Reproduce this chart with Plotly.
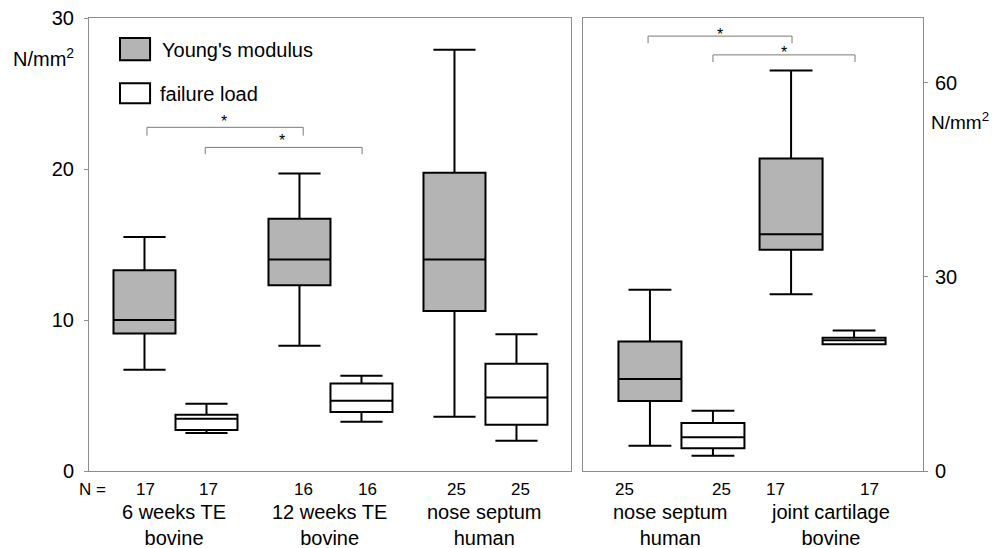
import plotly.graph_objects as go

# ---------------- data ----------------
groups_left = ["6 weeks TE<br>bovine", "12 weeks TE<br>bovine", "nose septum<br>human"]
groups_right = ["nose septum<br>human", "joint cartilage<br>bovine"]
n_young_left = ["17", "16", "25"]
n_fail_left = ["17", "16", "25"]
n_young_right = ["25", "17"]
n_fail_right = ["25", "17"]
left_ticks = [0, 10, 20, 30]
right_ticks = [0, 30, 60]

# Young's modulus, left panel (N/mm2, left axis)
young_left_upper = [15.5, 19.7, 27.9]
young_left_q3 = [13.3, 16.7, 19.75]
young_left_median = [10.0, 14.0, 14.0]
young_left_q1 = [9.1, 12.3, 10.6]
young_left_lower = [6.7, 8.3, 3.6]
# failure load, left panel
fail_left_upper = [4.45, 6.3, 9.05]
fail_left_q3 = [3.72, 5.8, 7.1]
fail_left_median = [3.46, 4.66, 4.86]
fail_left_q1 = [2.72, 3.9, 3.06]
fail_left_lower = [2.52, 3.26, 2.0]
# Young's modulus, right panel (right axis)
young_right_upper = [28.0, 61.9]
young_right_q3 = [20.0, 48.3]
young_right_median = [14.2, 36.6]
young_right_q1 = [10.8, 34.2]
young_right_lower = [3.9, 27.3]
# failure load, right panel
fail_right_upper = [9.3, 21.7]
fail_right_q3 = [7.4, 20.6]
fail_right_median = [5.2, 20.2]
fail_right_q1 = [3.5, 19.6]
fail_right_lower = [2.36, 19.6]

# ---------------- layout positions / styles ----------------
pos_young_left = [1, 3.5, 6]
pos_fail_left = [2, 4.5, 7]
pos_young_right = [1, 3.24]
pos_fail_right = [2, 4.24]
nlab_young_left = [1.01, 3.56, 6.04]
nlab_fail_left = [2.04, 4.59, 7.06]
nlab_young_right = [0.60, 2.985]
nlab_fail_right = [2.14, 4.49]
grp_left_x = [1.48, 3.99, 6.49]
grp_right_x = [1.32, 3.87]

FONT = "Liberation Sans, Arial, sans-serif"
GREY = "#b4b4b4"
FRAME = "#8c8c8c"
FS = 20      # main text size
FS_N = 17    # N labels

fig = go.Figure()

def add_box(x, lo, q1, med, q3, hi, fill, xa, ya, name):
    fig.add_trace(go.Box(
        x=x, lowerfence=lo, q1=q1, median=med, q3=q3, upperfence=hi,
        orientation="v", width=1.0, whiskerwidth=0.68,
        fillcolor=fill, line=dict(color="black", width=2),
        boxpoints=False, xaxis=xa, yaxis=ya, name=name, showlegend=False,
    ))

add_box(pos_young_left, young_left_lower, young_left_q1, young_left_median,
        young_left_q3, young_left_upper, GREY, "x", "y", "Young's modulus")
add_box(pos_fail_left, fail_left_lower, fail_left_q1, fail_left_median,
        fail_left_q3, fail_left_upper, "white", "x", "y", "failure load")
add_box(pos_young_right, young_right_lower, young_right_q1, young_right_median,
        young_right_q3, young_right_upper, GREY, "x2", "y2", "Young's modulus")
add_box(pos_fail_right, fail_right_lower, fail_right_q1, fail_right_median,
        fail_right_q3, fail_right_upper, "white", "x2", "y2", "failure load")

# significance brackets
def bracket(x0, x1, y, tip, xa, ya):
    fig.add_trace(go.Scatter(
        x=[x0, x0, x1, x1], y=[y - tip, y, y, y - tip], mode="lines",
        line=dict(color="#7a7a7a", width=1), xaxis=xa, yaxis=ya,
        showlegend=False, hoverinfo="skip"))

bracket(pos_young_left[0] + 0.04, pos_young_left[1] + 0.06, 22.76, 0.55, "x", "y")
bracket(pos_fail_left[0] - 0.02, pos_fail_left[1] + 0.01, 21.43, 0.45, "x", "y")
bracket(pos_young_right[0] - 0.03, pos_young_right[1] + 0.015, 67.2, 1.1, "x2", "y2")
bracket(pos_fail_right[0], pos_fail_right[1] + 0.015, 64.3, 1.1, "x2", "y2")

ann = []
stars = [(2.28, 23.15, "x", "y"), (3.22, 21.9, "x", "y"),
         (2.11, 67.5, "x2", "y2"), (3.13, 64.6, "x2", "y2")]
for sx, sy, xa, ya in stars:
    ann.append(dict(x=sx, y=sy, xref=xa, yref=ya, text="*", showarrow=False,
                    xanchor="center", yanchor="middle",
                    font=dict(family=FONT, size=16, color="black")))

# N labels
NY = -0.040
for xs, labs, xa in [(nlab_young_left, n_young_left, "x"), (nlab_fail_left, n_fail_left, "x"),
                     (nlab_young_right, n_young_right, "x2"), (nlab_fail_right, n_fail_right, "x2")]:
    for xv, t in zip(xs, labs):
        ann.append(dict(x=xv, y=NY, xref=xa, yref="paper", text=t, showarrow=False,
                        xanchor="center", yanchor="middle",
                        font=dict(family=FONT, size=FS_N, color="black")))
ann.append(dict(x=0.0036, y=NY, xref="paper", yref="paper", text="N =", showarrow=False,
                xanchor="center", yanchor="middle",
                font=dict(family=FONT, size=FS_N, color="black")))

# group labels
GY = -0.119
for xs, labs, xa in [(grp_left_x, groups_left, "x"), (grp_right_x, groups_right, "x2")]:
    for xv, t in zip(xs, labs):
        ann.append(dict(x=xv, y=GY, xref=xa, yref="paper", text=t, showarrow=False,
                        xanchor="center", yanchor="middle",
                        font=dict(family=FONT, size=FS, color="black")))

# unit labels
ann.append(dict(x=-0.054, y=0.912, xref="paper", yref="paper", text="N/mm<sup>2</sup>",
                showarrow=False, xanchor="center", yanchor="middle",
                font=dict(family=FONT, size=FS, color="black")))
ann.append(dict(x=1.0075, y=0.772, xref="paper", yref="paper", text="N/mm<sup>2</sup>",
                showarrow=False, xanchor="left", yanchor="middle",
                font=dict(family=FONT, size=19, color="black")))

# legend (drawn)
shapes = [
    dict(type="rect", xref="x", yref="y", x0=0.605, x1=1.09, y0=27.2, y1=28.67,
         fillcolor=GREY, line=dict(color="black", width=2)),
    dict(type="rect", xref="x", yref="y", x0=0.605, x1=1.09, y0=24.35, y1=25.68,
         fillcolor="white", line=dict(color="black", width=2)),
]
ann.append(dict(x=1.25, y=27.87, xref="x", yref="y", text="Young's modulus", showarrow=False,
                xanchor="left", yanchor="middle", font=dict(family=FONT, size=FS, color="black")))
ann.append(dict(x=1.22, y=24.95, xref="x", yref="y", text="failure load", showarrow=False,
                xanchor="left", yanchor="middle", font=dict(family=FONT, size=FS, color="black")))

axis_common = dict(showgrid=False, zeroline=False, showline=True, linecolor=FRAME,
                   linewidth=1, mirror=True)

# page body has an 8px margin: figure is sized/placed to compensate
fig.update_layout(
    width=989, height=540,
    margin=dict(l=81, r=74, t=10, b=77, autoexpand=False),
    paper_bgcolor="white", plot_bgcolor="white",
    boxmode="overlay",
    showlegend=False,
    font=dict(family=FONT, size=FS, color="black"),
    xaxis=dict(domain=[0, 0.5779], range=[0.105, 7.879], showticklabels=False,
               ticks="", **axis_common),
    yaxis=dict(anchor="x", range=[0, 30], tickvals=left_ticks, ticks="outside",
               ticklen=4, tickcolor=FRAME, ticklabelstandoff=6,
               ticklabeloverflow="allow",
               tickfont=dict(family=FONT, size=FS, color="black"), **axis_common),
    xaxis2=dict(domain=[0.5923, 1], range=[-0.063, 5.334], showticklabels=False,
                ticks="", **axis_common),
    yaxis2=dict(anchor="x2", side="right", range=[0, 70], tickvals=right_ticks,
                ticks="outside", ticklen=4, tickcolor=FRAME, ticklabelstandoff=3,
                ticklabeloverflow="allow",
                tickfont=dict(family=FONT, size=FS, color="black"), **axis_common),
    annotations=ann,
    shapes=shapes,
)

fig.write_html("out.html")
